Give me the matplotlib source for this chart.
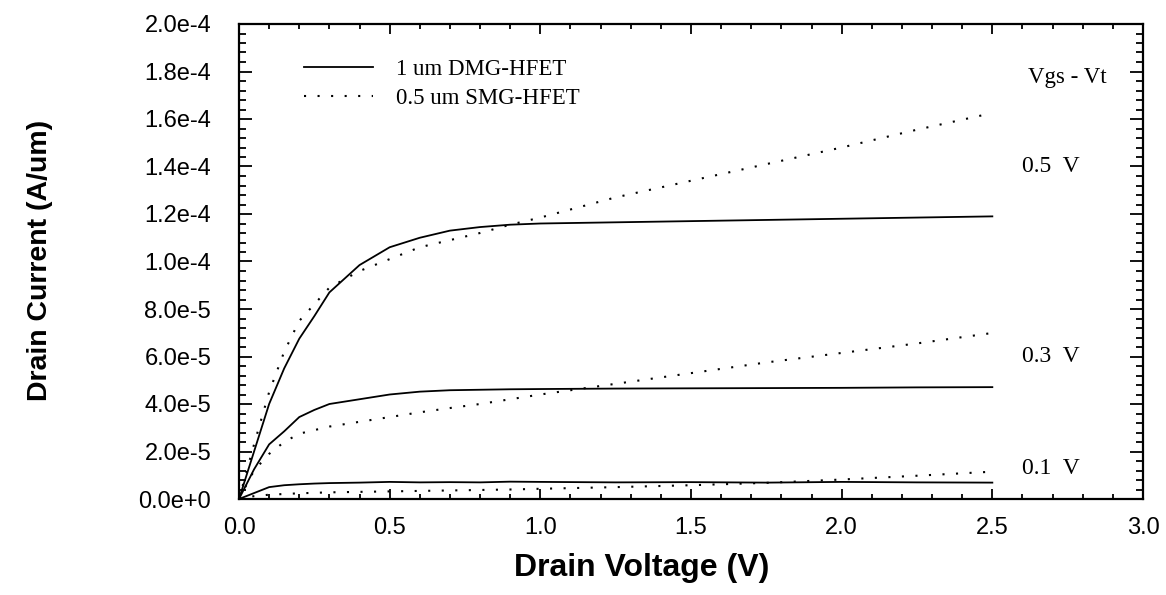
import matplotlib
matplotlib.use("Agg")
import matplotlib.pyplot as plt
from matplotlib.ticker import MultipleLocator, FuncFormatter

# ---- data ----
vd = [0, 0.05, 0.1, 0.15, 0.2, 0.25, 0.3, 0.4, 0.5, 0.6, 0.7, 0.8, 0.9, 1.0,
      1.25, 1.5, 1.75, 2.0, 2.25, 2.5]

dmg_05 = [0, 2.0e-5, 4.0e-5, 5.5e-5, 6.75e-5, 7.7e-5, 8.7e-5, 9.85e-5, 1.06e-4,
          1.10e-4, 1.13e-4, 1.145e-4, 1.155e-4, 1.16e-4, 1.165e-4, 1.17e-4,
          1.175e-4, 1.18e-4, 1.185e-4, 1.19e-4]
smg_05 = [0, 2.3e-5, 4.5e-5, 6.2e-5, 7.5e-5, 8.2e-5, 8.9e-5, 9.6e-5, 1.01e-4,
          1.06e-4, 1.09e-4, 1.12e-4, 1.155e-4, 1.185e-4, 1.27e-4, 1.34e-4,
          1.41e-4, 1.48e-4, 1.555e-4, 1.625e-4]

dmg_03 = [0, 1.25e-5, 2.3e-5, 2.85e-5, 3.45e-5, 3.75e-5, 4.0e-5, 4.2e-5, 4.4e-5,
          4.52e-5, 4.58e-5, 4.6e-5, 4.62e-5, 4.63e-5, 4.65e-5, 4.66e-5,
          4.67e-5, 4.68e-5, 4.7e-5, 4.71e-5]
smg_03 = [0, 1.2e-5, 1.9e-5, 2.4e-5, 2.75e-5, 2.9e-5, 3.05e-5, 3.25e-5, 3.45e-5,
          3.65e-5, 3.83e-5, 4.0e-5, 4.2e-5, 4.4e-5, 4.85e-5, 5.3e-5,
          5.75e-5, 6.15e-5, 6.55e-5, 6.99e-5]

dmg_01 = [0, 2.5e-6, 5.0e-6, 5.8e-6, 6.2e-6, 6.5e-6, 6.7e-6, 6.9e-6, 7.2e-6,
          7.0e-6, 7.1e-6, 7.0e-6, 7.3e-6, 7.2e-6, 7.0e-6, 7.1e-6, 6.9e-6,
          7.2e-6, 7.0e-6, 6.9e-6]
smg_01 = [0, 1.2e-6, 1.8e-6, 2.1e-6, 2.4e-6, 2.6e-6, 2.8e-6, 3.0e-6, 3.2e-6,
          3.4e-6, 3.6e-6, 3.8e-6, 4.0e-6, 4.3e-6, 5.0e-6, 5.8e-6, 6.8e-6,
          8.2e-6, 9.8e-6, 1.15e-5]

curve_labels = ["0.5  V", "0.3  V", "0.1  V"]
curve_label_y = [1.40e-4, 6.0e-5, 1.3e-5]
legend_labels = ["1 um DMG-HFET", "0.5 um SMG-HFET"]
x_label = "Drain Voltage (V)"
y_label = "Drain Current (A/um)"
header = "Vgs - Vt"

# ---- figure ----
W, H = 1166, 595
fig = plt.figure(figsize=(W / 100, H / 100), dpi=100)
ax = fig.add_axes([239 / W, 1 - 499 / H, (1143 - 239) / W, (499 - 24) / H])

solid_kw = dict(color="black", lw=1.3, linestyle="-")
dot_kw = dict(color="black", lw=1.5, linestyle=(0, (1, 5.5)))

l1, = ax.plot(vd, dmg_05, **solid_kw)
l2, = ax.plot(vd, smg_05, **dot_kw)
ax.plot(vd, dmg_03, **solid_kw)
ax.plot(vd, smg_03, **dot_kw)
ax.plot(vd, dmg_01, **solid_kw)
ax.plot(vd, smg_01, **dot_kw)

ax.set_xlim(0, 3.0)
ax.set_ylim(0, 2.0e-4)

ax.xaxis.set_major_locator(MultipleLocator(0.5))
ax.xaxis.set_minor_locator(MultipleLocator(0.1))
ax.yaxis.set_major_locator(MultipleLocator(2e-5))
ax.yaxis.set_minor_locator(MultipleLocator(4e-6))


def yfmt(v, pos):
    if abs(v) < 1e-12:
        return "0.0e+0"
    s = "%.1e" % v
    mant, exp = s.split("e")
    return "%se%d" % (mant, int(exp))


ax.yaxis.set_major_formatter(FuncFormatter(yfmt))
ax.xaxis.set_major_formatter(FuncFormatter(lambda v, p: "%.1f" % v))

for sp in ax.spines.values():
    sp.set_linewidth(1.6)

ax.tick_params(axis="both", which="both", direction="in", top=True, right=True,
               width=1.3, colors="black")
ax.tick_params(axis="y", which="major", length=9.5, pad=20, labelsize=17)
ax.tick_params(axis="y", which="minor", length=5)
ax.tick_params(axis="x", which="major", length=7, pad=13, labelsize=17)
ax.tick_params(axis="x", which="minor", length=3.5)
for lab in ax.get_xticklabels() + ax.get_yticklabels():
    lab.set_fontfamily(["Liberation Sans", "DejaVu Sans"])

serif = ["Liberation Serif", "DejaVu Serif"]
leg = ax.legend([l1, l2], legend_labels, loc="upper left",
                bbox_to_anchor=(0.062, 0.945), frameon=False,
                prop={"family": serif, "size": 16.5},
                handlelength=3.0, handletextpad=1.0, labelspacing=0.35,
                borderaxespad=0)

ax.text(2.75, 1.775e-4, header, ha="center", va="center", fontsize=16.5,
        family=serif)
for lab, yv in zip(curve_labels, curve_label_y):
    ax.text(2.695, yv, lab, ha="center", va="center", fontsize=17, family=serif)

fig.text(642 / W, 1 - 568 / H, x_label, ha="center", va="center",
         fontsize=23, fontweight="bold", family=["Liberation Sans", "DejaVu Sans"])
fig.text(40 / W, 1 - 260 / H, y_label, ha="center", va="center", rotation=90,
         fontsize=20.5, fontweight="bold", family=["Liberation Sans", "DejaVu Sans"])

fig.savefig("out.png", dpi=100, facecolor="white")
